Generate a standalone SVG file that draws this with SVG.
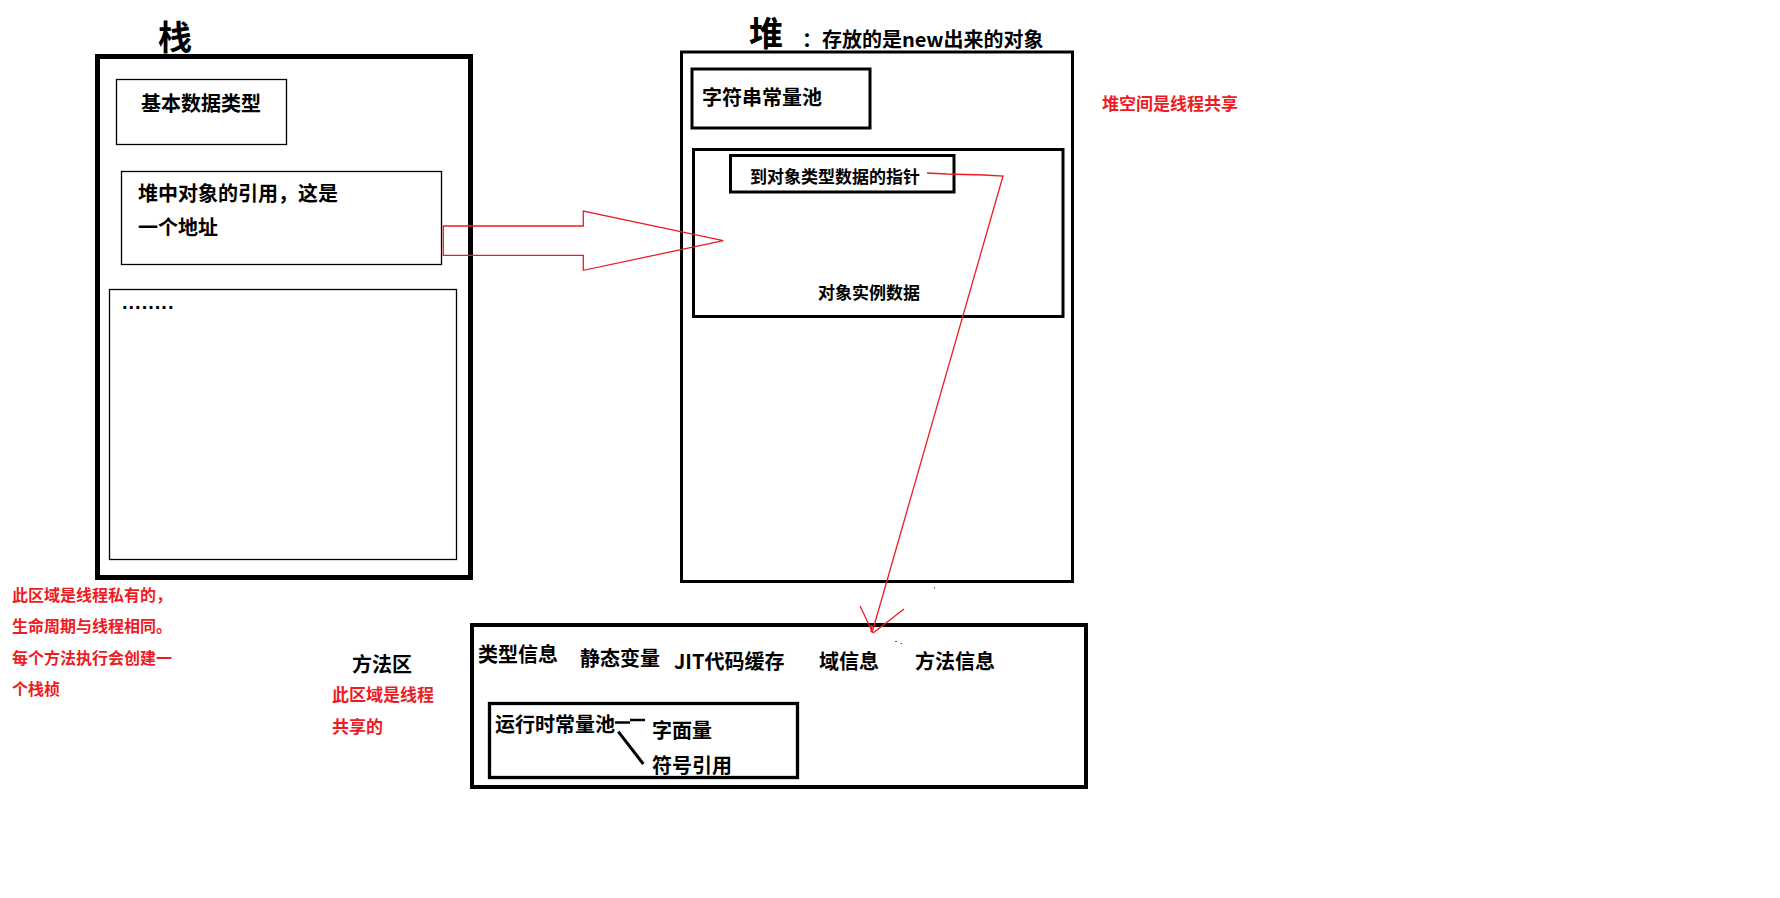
<svg xmlns="http://www.w3.org/2000/svg" width="1780" height="898" viewBox="0 0 1780 898">
<style>
  text { font-family: "Noto Sans CJK SC", "Liberation Sans", sans-serif; font-weight: bold; fill: #000; }
  .red { fill: #ED1C24; }
  .t20 { font-size: 20px; }
  .t17 { font-size: 17px; }
  .t16 { font-size: 16px; }
  .title { font-size: 34px; }
  .box { fill: none; stroke: #000; }
  .redline { fill: none; stroke: #ED1C24; stroke-width: 1.3; }
</style>
<rect x="0" y="0" width="1780" height="898" fill="#fff"/>

<g id="stack">
  <text class="title" x="158" y="50">栈</text>
  <rect class="box" x="97.5" y="56.5" width="373" height="521" stroke-width="5"/>
</g>
<g id="primitive">
  <rect class="box" x="116.5" y="79.5" width="170" height="65" stroke-width="1.3"/>
  <text class="t20" x="141" y="111">基本数据类型</text>
</g>
<g id="reference">
  <rect class="box" x="121.5" y="171.5" width="320" height="93" stroke-width="1.3"/>
  <text class="t20" x="138" y="201">堆中对象的引用，这是</text>
  <text class="t20" x="138" y="235">一个地址</text>
</g>
<g id="more">
  <rect class="box" x="109.5" y="289.5" width="347" height="270" stroke-width="1.3"/>
  <text class="t20" x="122" y="309" letter-spacing="1" style="font-family: 'Liberation Sans', sans-serif;">........</text>
</g>
<g id="stack-note">
  <text class="t16 red" x="12" y="601">此区域是线程私有的，</text>
  <text class="t16 red" x="12" y="632">生命周期与线程相同。</text>
  <text class="t16 red" x="12" y="664">每个方法执行会创建一</text>
  <text class="t16 red" x="12" y="695">个栈桢</text>
</g>

<g id="heap">
  <text class="title" x="749" y="46">堆</text>
  <text class="t20" x="802" y="47">：存放的是new出来的对象</text>
  <rect class="box" x="681.5" y="52" width="391" height="529.5" stroke-width="3"/>
</g>
<g id="string-pool">
  <rect class="box" x="692" y="69" width="178" height="59" stroke-width="3"/>
  <text class="t20" x="702" y="105">字符串常量池</text>
</g>
<g id="object">
  <rect class="box" x="693.5" y="149.5" width="369.5" height="167" stroke-width="3"/>
  <text class="t17" x="818" y="299">对象实例数据</text>
</g>
<g id="type-pointer">
  <rect class="box" x="730.5" y="155.5" width="223.5" height="36.5" stroke-width="3"/>
  <text class="t17" x="750" y="183">到对象类型数据的指针</text>
</g>
<g id="heap-note">
  <text class="t17 red" x="1102" y="110">堆空间是线程共享</text>
</g>

<g id="method-area">
  <rect class="box" x="472" y="625" width="614" height="162" stroke-width="4"/>
  <text class="t20" x="478" y="662">类型信息</text>
  <text class="t20" x="580" y="666">静态变量</text>
  <text class="t20" x="674" y="669">JIT代码缓存</text>
  <text class="t20" x="819" y="669">域信息</text>
  <text class="t20" x="915" y="669">方法信息</text>
</g>
<g id="runtime-pool">
  <rect class="box" x="489.5" y="703.5" width="308" height="74" stroke-width="3.3"/>
  <text class="t20" x="495" y="732">运行时常量池</text>
  <text class="t20" x="652" y="738">字面量</text>
  <text class="t20" x="652" y="773">符号引用</text>
</g>
<g id="method-label">
  <text class="t20" x="352" y="672">方法区</text>
  <text class="t17 red" x="332" y="701">此区域是线程</text>
  <text class="t17 red" x="332" y="733">共享的</text>
</g>

<g id="connectors">
  <polygon class="redline" points="443.3,226 583.3,226 583.3,211 723.3,240.7 583.3,270.3 583.3,255.3 443.3,255.3"/>
  <polyline class="redline" stroke-width="1.2" points="927,173 947,174 984,175 1003,176 872,633"/>
  <path class="redline" stroke-width="1.2" d="M860,606 L872,631 M904,609 L873,633"/>
  <path fill="none" stroke="#ED1C24" stroke-width="2" d="M871.5,625 V632"/>
  <rect x="934" y="587" width="1" height="1.5" fill="#ED1C24"/>
  <rect x="895" y="641" width="2" height="1" fill="#ED1C24"/>
  <rect x="900.5" y="643" width="1.5" height="1" fill="#ED1C24"/>
  <path fill="none" stroke="#000" stroke-width="2.7" d="M615,722.5 H630 M630,720 H645"/>
  <path fill="none" stroke="#000" stroke-width="3" d="M618.3,731.7 L643.3,764"/>
</g>
</svg>
